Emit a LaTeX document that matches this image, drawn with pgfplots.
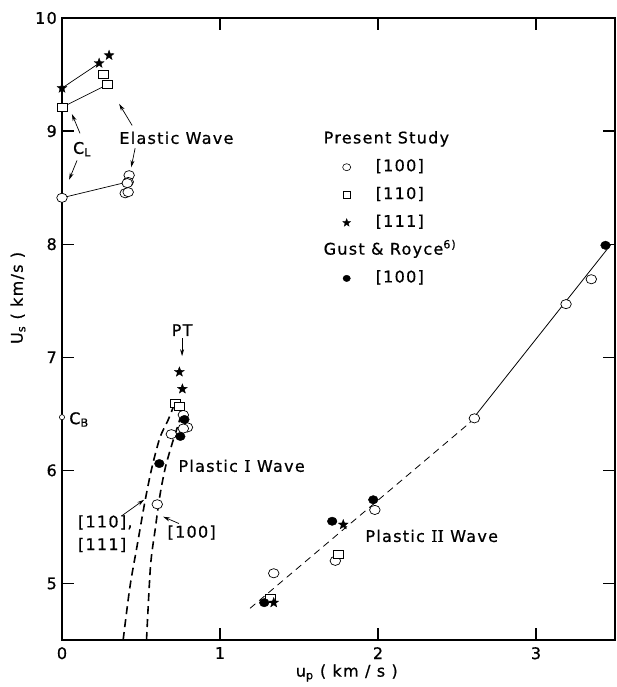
\documentclass[border=0pt]{standalone}
\usepackage{fontspec}
\setmainfont{DejaVu Sans}[LetterSpace=8, FakeBold=0.7]
\newfontfamily\romI{DejaVu Serif}[FakeBold=0.7]
\usepackage{pgfplots}
\pgfplotsset{compat=1.18}
\usetikzlibrary{arrows.meta}

\pgfdeclareplotmark{fstar}{%
  \pgfpathmoveto{\pgfpointpolar{90}{\pgfplotmarksize}}%
  \pgfpathlineto{\pgfpointpolar{126}{0.42\pgfplotmarksize}}%
  \pgfpathlineto{\pgfpointpolar{162}{\pgfplotmarksize}}%
  \pgfpathlineto{\pgfpointpolar{198}{0.42\pgfplotmarksize}}%
  \pgfpathlineto{\pgfpointpolar{234}{\pgfplotmarksize}}%
  \pgfpathlineto{\pgfpointpolar{270}{0.42\pgfplotmarksize}}%
  \pgfpathlineto{\pgfpointpolar{306}{\pgfplotmarksize}}%
  \pgfpathlineto{\pgfpointpolar{342}{0.42\pgfplotmarksize}}%
  \pgfpathlineto{\pgfpointpolar{18}{\pgfplotmarksize}}%
  \pgfpathlineto{\pgfpointpolar{54}{0.42\pgfplotmarksize}}%
  \pgfpathclose
  \pgfusepathqfillstroke
}

\begin{document}
\fontsize{16}{19}\selectfont
\begin{tikzpicture}
\begin{axis}[
  scale only axis, width=553pt, height=622pt,
  xmin=0, xmax=3.5, ymin=4.5, ymax=10,
  xtick={0,1,2,3}, ytick={5,6,7,8,9,10},
  tick pos=both, tick align=inside,
  major tick length=12pt,
  axis line style={line width=1.6pt},
  every tick/.style={black, line width=1.3pt},
  /pgf/number format/assume math mode=true,
  yticklabel style={inner sep=0pt, xshift=-5pt},
  xticklabel style={inner sep=0pt, yshift=-7pt},
  xlabel={u\textsubscript{p} ( km / s )},
  ylabel={U\textsubscript{s} ( km/s )},
  every axis x label/.style={at={(rel axis cs:0.515,0)}, anchor=center, yshift=-33pt},
  every axis y label/.style={at={(rel axis cs:0,0.55)}, rotate=90, anchor=center, yshift=44pt},
  legend cell align=left,
  legend style={draw=none, fill=none, at={(rel axis cs:0.499,0.818)}, anchor=north west,
    inner sep=0pt, row sep=11.8pt, column sep=25pt,
    nodes={inner sep=0pt, text height=12pt, text depth=4pt}},
  clip=false,
]
% ---- legend ----
\addlegendimage{empty legend}
\addlegendentry{\hspace*{-52pt}Present Study}
\addlegendimage{only marks, mark=*, mark size=3.5pt, mark options={fill=white, draw=black, line width=0.6pt, xscale=1.15}}
\addlegendentry{[100]}
\addlegendimage{only marks, mark=square*, mark size=3.5pt, mark options={fill=white, draw=black, line width=0.6pt}}
\addlegendentry{[110]}
\addlegendimage{only marks, mark=fstar, mark size=4.2pt, mark options={fill=black, draw=black, line width=0.3pt}}
\addlegendentry{[111]}
\addlegendimage{empty legend}
\addlegendentry{\hspace*{-52pt}Gust \& Royce\textsuperscript{6)}}
\addlegendimage{only marks, mark=*, mark size=3.2pt, mark options={fill=black, draw=black, xscale=1.15}}
\addlegendentry{[100]}

% ---- lines ----
\addplot[forget plot, black, line width=0.7pt] coordinates {(0,8.41) (0.415,8.55)};
\addplot[forget plot, black, line width=0.7pt] coordinates {(0,9.21) (0.286,9.41)};
\addplot[forget plot, black, line width=0.7pt] coordinates {(0,9.38) (0.235,9.60)};
% Plastic I dashed curves
\addplot[forget plot, black, line width=1.6pt, dash pattern=on 8pt off 5pt, smooth] coordinates {
  (0.387,4.5) (0.43,4.97) (0.475,5.33) (0.527,5.74) (0.57,6.03) (0.62,6.29) (0.67,6.44) (0.71,6.58)};
\addplot[forget plot, black, line width=1.6pt, dash pattern=on 8pt off 5pt, smooth] coordinates {
  (0.535,4.5) (0.56,5.15) (0.59,5.48) (0.62,5.78) (0.655,6.03) (0.70,6.25) (0.73,6.38) (0.75,6.47)};
% Plastic II
\addplot[forget plot, black, line width=0.8pt, dash pattern=on 7pt off 5pt] coordinates {(1.19,4.78) (2.58,6.42)};
\addplot[forget plot, black, line width=0.8pt] coordinates {(2.58,6.42) (3.47,7.99)};

% ---- data ----
% open circles [100]
\addplot[forget plot, only marks, mark=*, mark size=4.6pt, mark options={fill=white, draw=black, line width=0.7pt, xscale=1.15}] coordinates {
  (0,8.41) (0.425,8.61) (0.419,8.55) (0.413,8.54) (0.40,8.45) (0.419,8.46)
  (0.768,6.49) (0.794,6.38) (0.768,6.37) (0.692,6.32) (0.603,5.70)
  (1.34,5.09) (1.73,5.20) (1.98,5.65) (2.61,6.46) (3.19,7.47) (3.35,7.69)};
% squares [110]
\addplot[forget plot, only marks, mark=square*, mark size=5pt, mark options={fill=white, draw=black, line width=0.7pt, yscale=0.8}] coordinates {
  (0,9.21) (0.26,9.50) (0.286,9.41)
  (0.717,6.59) (0.743,6.57)
  (1.32,4.87) (1.75,5.26)};
% filled circles Gust & Royce
\addplot[forget plot, only marks, mark=*, mark size=4.2pt, mark options={fill=black, draw=black, xscale=1.15}] coordinates {
  (0.775,6.45) (0.749,6.30) (0.616,6.06)
  (1.28,4.83) (1.71,5.55) (1.97,5.74) (3.44,7.99)};
% stars [111]
\addplot[forget plot, only marks, mark=fstar, mark size=5.2pt, mark options={fill=black, draw=black, line width=0.3pt}] coordinates {
  (0,9.38) (0.235,9.60) (0.298,9.67)
  (0.743,6.87) (0.762,6.72)
  (1.34,4.83) (1.78,5.52)};
% C_B
\addplot[forget plot, only marks, mark=*, mark size=2.6pt, mark options={fill=white, draw=black, line width=0.6pt}] coordinates {(0,6.47)};

% ---- annotations ----
\node at (axis cs:0.127,8.84) {C\textsubscript{L}};
\draw[-{Stealth[length=7pt,width=4pt]}, line width=0.7pt] (axis cs:0.114,8.98) -- (axis cs:0.063,9.15);
\draw[-{Stealth[length=7pt,width=4pt]}, line width=0.7pt] (axis cs:0.095,8.74) -- (axis cs:0.045,8.57);
\node at (axis cs:0.724,8.94) {Elastic Wave};
\draw[-{Stealth[length=7pt,width=4pt]}, line width=0.7pt] (axis cs:0.444,9.05) -- (axis cs:0.362,9.24);
\draw[-{Stealth[length=7pt,width=4pt]}, line width=0.7pt] (axis cs:0.463,8.85) -- (axis cs:0.438,8.68);
\node[anchor=west, inner sep=0pt] at (axis cs:0.045,6.45) {C\textsubscript{B}};
\node at (axis cs:0.76,7.24) {PT};
\draw[-{Stealth[length=7pt,width=4pt]}, line width=0.7pt] (axis cs:0.76,7.17) -- (axis cs:0.76,7.01);
\node[anchor=west, inner sep=0pt] at (axis cs:0.736,6.04) {Plastic {\romI I} Wave};
\node[anchor=west, inner sep=0pt] at (axis cs:0.10,5.54) {[110],};
\node[anchor=west, inner sep=0pt] at (axis cs:0.10,5.34) {[111]};
\draw[-{Stealth[length=7pt,width=4pt]}, line width=0.7pt] (axis cs:0.38,5.60) -- (axis cs:0.52,5.74);
\node[anchor=west, inner sep=0pt] at (axis cs:0.667,5.45) {[100]};
\draw[-{Stealth[length=7pt,width=4pt]}, line width=0.7pt] (axis cs:0.74,5.53) -- (axis cs:0.64,5.59);
\node at (axis cs:2.34,5.42) {Plastic {\romI II} Wave};
\end{axis}
\path ([shift={(-62pt,-47pt)}]current axis.south west) rectangle ([shift={(2pt,18pt)}]current axis.north east);
\end{tikzpicture}
\end{document}
